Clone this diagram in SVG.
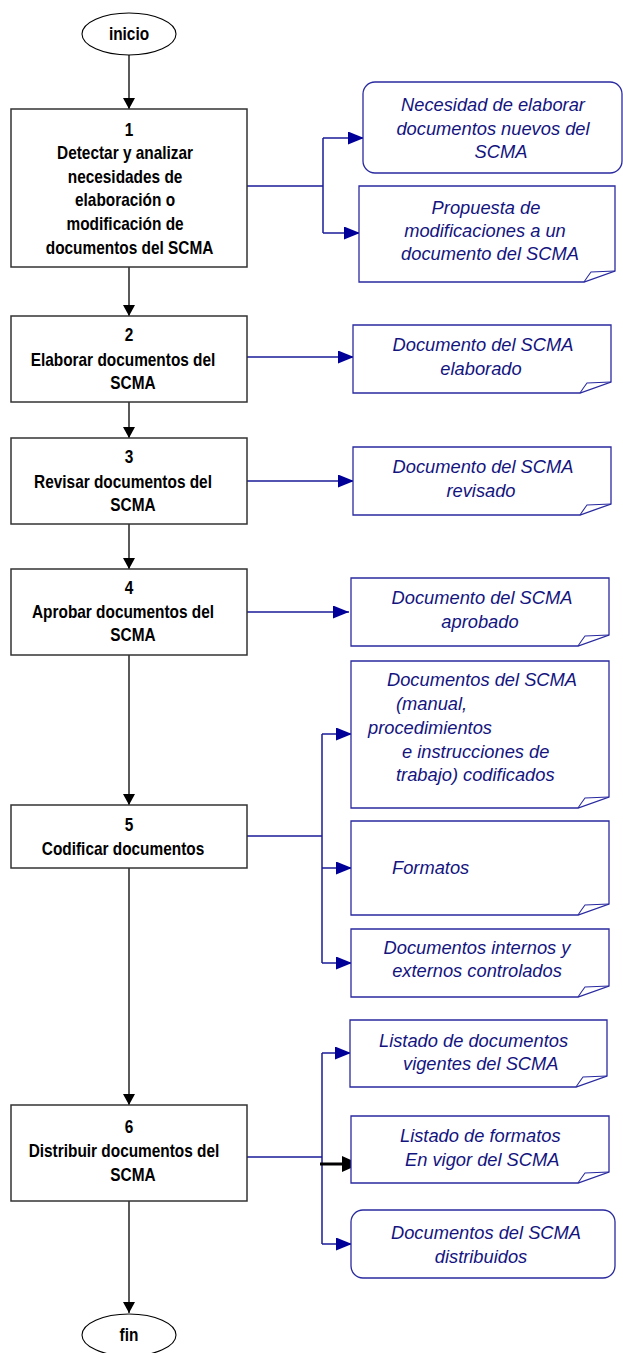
<svg xmlns="http://www.w3.org/2000/svg" width="623" height="1353" viewBox="0 0 623 1353">
<style>
.b{font-family:"Liberation Sans",Arial,sans-serif;font-weight:bold;font-size:17.5px;fill:#000;text-anchor:middle}
.i{font-family:"Liberation Sans",Arial,sans-serif;font-style:italic;font-size:18.3px;fill:#14147f;text-anchor:middle}
.s{text-anchor:start}
.box{fill:#fff;stroke:#333;stroke-width:1.5}
.ell{fill:#fff;stroke:#000;stroke-width:1.1}
.out{fill:#fff;stroke:#2a2aa0;stroke-width:1.3}
.curl{fill:none;stroke:#2a2aa0;stroke-width:1.1}
.k{stroke:#000;stroke-width:1.3;fill:none}
.bl{stroke:#1a1a99;stroke-width:1.5;fill:none}
</style>
<defs>
<marker id="ak" markerWidth="11" markerHeight="12" refX="11" refY="6" orient="auto" markerUnits="userSpaceOnUse"><path d="M0,0 L11,6 L0,12 Z" fill="#000"/></marker>
<marker id="ab" markerWidth="16" markerHeight="13" refX="16" refY="6.5" orient="auto" markerUnits="userSpaceOnUse"><path d="M0,0 L16,6.5 L0,13 Z" fill="#000099"/></marker>
<marker id="akb" markerWidth="18" markerHeight="16" refX="18" refY="8" orient="auto" markerUnits="userSpaceOnUse"><path d="M0,0 L18,8 L0,16 Z" fill="#000"/></marker>
</defs>

<g id="connectors">
<line class="k" x1="129" y1="55" x2="129" y2="109" marker-end="url(#ak)"/>
<line class="k" x1="129" y1="267" x2="129" y2="316" marker-end="url(#ak)"/>
<line class="k" x1="129" y1="402" x2="129" y2="438" marker-end="url(#ak)"/>
<line class="k" x1="129" y1="524" x2="129" y2="569" marker-end="url(#ak)"/>
<line class="k" x1="129" y1="655" x2="129" y2="805" marker-end="url(#ak)"/>
<line class="k" x1="129" y1="868" x2="129" y2="1105" marker-end="url(#ak)"/>
<line class="k" x1="129" y1="1201" x2="129" y2="1313" marker-end="url(#ak)"/>

<polyline class="bl" points="247,186 323,186"/>
<polyline class="bl" points="323,138 323,233"/>
<line class="bl" x1="323" y1="138" x2="364" y2="138" marker-end="url(#ab)"/>
<line class="bl" x1="323" y1="233" x2="360" y2="233" marker-end="url(#ab)"/>

<line class="bl" x1="247" y1="357" x2="354" y2="357" marker-end="url(#ab)"/>
<line class="bl" x1="247" y1="481" x2="354" y2="481" marker-end="url(#ab)"/>
<line class="bl" x1="247" y1="612" x2="349" y2="612" marker-end="url(#ab)"/>

<polyline class="bl" points="247,836 322,836"/>
<polyline class="bl" points="322,734 322,963"/>
<line class="bl" x1="322" y1="734" x2="352" y2="734" marker-end="url(#ab)"/>
<line class="bl" x1="322" y1="868" x2="352" y2="868" marker-end="url(#ab)"/>
<line class="bl" x1="322" y1="963" x2="352" y2="963" marker-end="url(#ab)"/>

<polyline class="bl" points="247,1157 322,1157"/>
<polyline class="bl" points="322,1053 322,1244"/>
<line class="bl" x1="322" y1="1053" x2="351" y2="1053" marker-end="url(#ab)"/>
<line class="bl" x1="322" y1="1244" x2="352" y2="1244" marker-end="url(#ab)"/>
<line x1="320" y1="1164" x2="360" y2="1164" stroke="#000" stroke-width="3" marker-end="url(#akb)"/>
</g>

<g id="inicio">
<ellipse class="ell" cx="129" cy="34" rx="47" ry="21"/>
<g transform="translate(129 0) scale(0.88 1)"><text class="b" x="0" y="40">inicio</text></g>
</g>

<g id="p1">
<rect class="box" x="11" y="109" width="236" height="158"/>
<g transform="translate(129 0) scale(0.88 1)">
<text class="b" x="0" y="136">1</text>
<text class="b" x="-4.5" y="159.5">Detectar y analizar</text>
<text class="b" x="-4.5" y="183">necesidades de</text>
<text class="b" x="-4.5" y="206.5">elaboración o</text>
<text class="b" x="-4.5" y="230">modificación de</text>
<text class="b" x="0.6" y="254">documentos del SCMA</text>
</g>
</g>

<g id="o1a">
<rect class="out" x="363" y="82" width="259" height="91" rx="12"/>
<text class="i" x="493" y="111">Necesidad de elaborar</text>
<text class="i" x="493" y="135">documentos nuevos del</text>
<text class="i" x="501" y="158">SCMA</text>
</g>

<g id="o1b">
<path class="out" d="M359,186 H615 V271 L584,282 H359 Z"/>
<path class="curl" d="M584,282 Q588,276 591,272 L615,271"/>
<text class="i" x="486" y="214">Propuesta de</text>
<text class="i" x="485" y="237">modificaciones a un</text>
<text class="i" x="490" y="260">documento del SCMA</text>
</g>

<g id="p2">
<rect class="box" x="11" y="316" width="236" height="86"/>
<g transform="translate(129 0) scale(0.88 1)">
<text class="b" x="0" y="341">2</text>
<text class="b" x="-6.8" y="366">Elaborar documentos del</text>
<text class="b" x="4.5" y="389">SCMA</text>
</g>
</g>

<g id="o2">
<path class="out" d="M353,325 H611 V382 L580,393 H353 Z"/>
<path class="curl" d="M580,393 Q584,387 587,383 L611,382"/>
<text class="i" x="483" y="351">Documento del SCMA</text>
<text class="i" x="481" y="375">elaborado</text>
</g>

<g id="p3">
<rect class="box" x="11" y="438" width="236" height="86"/>
<g transform="translate(129 0) scale(0.88 1)">
<text class="b" x="0" y="463">3</text>
<text class="b" x="-6.8" y="488">Revisar documentos del</text>
<text class="b" x="4.5" y="511">SCMA</text>
</g>
</g>

<g id="o3">
<path class="out" d="M353,447 H611 V504 L580,515 H353 Z"/>
<path class="curl" d="M580,515 Q584,509 587,505 L611,504"/>
<text class="i" x="483" y="473">Documento del SCMA</text>
<text class="i" x="481" y="497">revisado</text>
</g>

<g id="p4">
<rect class="box" x="11" y="569" width="236" height="86"/>
<g transform="translate(129 0) scale(0.88 1)">
<text class="b" x="0" y="594">4</text>
<text class="b" x="-6.8" y="618">Aprobar documentos del</text>
<text class="b" x="4.5" y="641.5">SCMA</text>
</g>
</g>

<g id="o4">
<path class="out" d="M351,578 H609 V635 L578,646 H351 Z"/>
<path class="curl" d="M578,646 Q582,640 585,636 L609,635"/>
<text class="i" x="482" y="604">Documento del SCMA</text>
<text class="i" x="480" y="628">aprobado</text>
</g>

<g id="p5">
<rect class="box" x="11" y="805" width="236" height="63"/>
<g transform="translate(129 0) scale(0.88 1)">
<text class="b" x="0" y="831">5</text>
<text class="b" x="-6.8" y="855">Codificar documentos</text>
</g>
</g>

<g id="o5a">
<path class="out" d="M351,661 H609 V797 L578,808 H351 Z"/>
<path class="curl" d="M578,808 Q582,802 585,798 L609,797"/>
<text class="i s" x="387" y="686">Documentos del SCMA</text>
<text class="i s" x="396" y="710">(manual,</text>
<text class="i s" x="368" y="734">procedimientos</text>
<text class="i s" x="402" y="757.5">e instrucciones de</text>
<text class="i s" x="396" y="781">trabajo) codificados</text>
</g>

<g id="o5b">
<path class="out" d="M351,821 H609 V904 L578,915 H351 Z"/>
<path class="curl" d="M578,915 Q582,909 585,905 L609,904"/>
<text class="i s" x="392" y="873.5">Formatos</text>
</g>

<g id="o5c">
<path class="out" d="M351,929 H609 V986 L578,997 H351 Z"/>
<path class="curl" d="M578,997 Q582,991 585,987 L609,986"/>
<text class="i" x="477" y="954">Documentos internos y</text>
<text class="i" x="477" y="977">externos controlados</text>
</g>

<g id="p6">
<rect class="box" x="11" y="1105" width="236" height="96"/>
<g transform="translate(129 0) scale(0.88 1)">
<text class="b" x="0" y="1133">6</text>
<text class="b" x="-5.7" y="1157">Distribuir documentos del</text>
<text class="b" x="4.5" y="1181">SCMA</text>
</g>
</g>

<g id="o6a">
<path class="out" d="M350,1020 H607 V1076 L576,1087 H350 Z"/>
<path class="curl" d="M576,1087 Q580,1081 583,1077 L607,1076"/>
<text class="i s" x="379" y="1047">Listado de documentos</text>
<text class="i s" x="403" y="1070">vigentes del SCMA</text>
</g>

<g id="o6b">
<path class="out" d="M351,1116 H609 V1172 L578,1183 H351 Z"/>
<path class="curl" d="M578,1183 Q582,1177 585,1173 L609,1172"/>
<text class="i s" x="400" y="1142">Listado de formatos</text>
<text class="i s" x="405" y="1166">En vigor del SCMA</text>
</g>

<g id="o6c">
<rect class="out" x="351" y="1210" width="264" height="68" rx="12"/>
<text class="i" x="486" y="1239">Documentos del SCMA</text>
<text class="i" x="481" y="1263">distribuidos</text>
</g>

<g id="fin">
<ellipse class="ell" cx="129" cy="1335" rx="47" ry="21"/>
<g transform="translate(129 0) scale(0.88 1)"><text class="b" x="0" y="1341">fin</text></g>
</g>
</svg>
